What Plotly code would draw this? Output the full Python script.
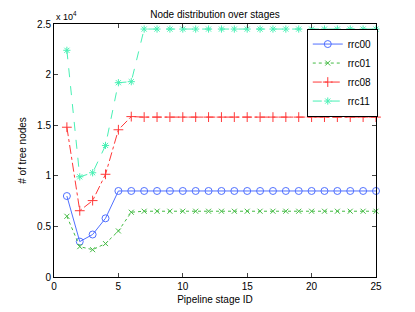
import plotly.graph_objects as go

stages = list(range(1, 26))
rrc00 = [0.80, 0.35, 0.42, 0.58, 0.85] + [0.85] * 20
rrc01 = [0.60, 0.30, 0.27, 0.33, 0.455, 0.64] + [0.65] * 19
rrc08 = [1.48, 0.655, 0.755, 1.015, 1.455, 1.585] + [1.58] * 19
rrc11 = [2.24, 0.99, 1.03, 1.30, 1.92, 1.93] + [2.45] * 19

series = [
    ("rrc00", rrc00, "#5070ff", "solid", "circle-open", 7),
    ("rrc01", rrc01, "#44bb44", "dot", "x-thin-open", 5),
    ("rrc08", rrc08, "#ff3838", "dashdot", "cross-thin-open", 7),
    ("rrc11", rrc11, "#48f0b4", "dash", "asterisk-open", 6),
]

x_ticks = [0, 5, 10, 15, 20, 25]
y_ticks = [0, 0.5, 1, 1.5, 2, 2.5]
y_tick_labels = ["0", "0.5", "1", "1.5", "2", "2.5"]

fig = go.Figure()
for name, vals, color, dash, sym, size in series:
    fig.add_trace(go.Scatter(
        x=stages, y=vals, name=name, mode="lines+markers",
        line=dict(color=color, width=1, dash=dash),
        marker=dict(symbol=sym, size=size, color=color, line=dict(width=1, color=color)),
        cliponaxis=False,
    ))

font = "Liberation Sans, Arial, Helvetica, sans-serif"
fig.update_layout(
    width=407, height=304,
    margin=dict(l=46, r=39, t=16, b=35, autoexpand=False),
    paper_bgcolor="white", plot_bgcolor="white",
    font=dict(family=font, size=10, color="black"),
    title=dict(text="Node distribution over stages", x=0.5, xanchor="center",
               xref="paper", yref="container",
               y=1 - 3 / 304, yanchor="top", font=dict(size=10)),
    showlegend=True,
    legend=dict(x=0.785, y=0.982, xanchor="left", yanchor="top",
                bordercolor="black", borderwidth=1, bgcolor="white",
                font=dict(size=10), tracegroupgap=0, itemwidth=30),
    xaxis=dict(range=[0, 25], tickvals=x_ticks, ticks="inside", ticklen=4,
               showline=True, linecolor="black", linewidth=1, mirror="ticks",
               showgrid=False, zeroline=False, automargin=False,
               title=dict(text="Pipeline stage ID", standoff=4, font=dict(size=10))),
    yaxis=dict(range=[0, 2.5], tickvals=y_ticks, ticktext=y_tick_labels,
               ticks="inside", ticklen=4,
               showline=True, linecolor="black", linewidth=1, mirror="ticks",
               showgrid=False, zeroline=False, automargin=False,
               title=dict(text="# of tree nodes", standoff=8, font=dict(size=10))),
    annotations=[dict(text="x 10<sup>4</sup>", xref="paper", yref="paper",
                      x=0, y=1, xanchor="left", yanchor="bottom", showarrow=False,
                      font=dict(size=9))],
)

fig.write_html("out.html")
